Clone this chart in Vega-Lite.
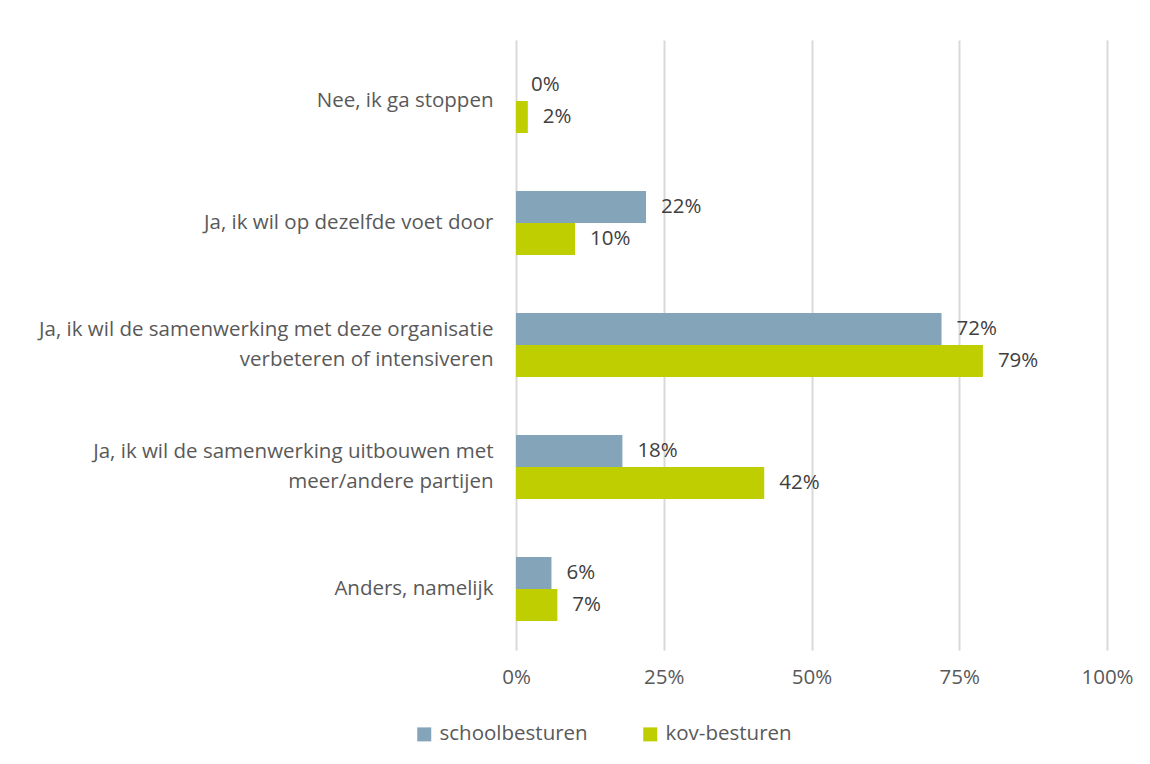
{
  "$schema": "https://vega.github.io/schema/vega-lite/v6.json",
  "autosize": "none",
  "width": 591,
  "height": 610,
  "padding": {"left": 516, "top": 40, "right": 43, "bottom": 114},
  "background": "white",
  "config": {
    "font": "Open Sans",
    "view": {"stroke": null}
  },
  "data": {
    "values": [
      {"categorie": "Nee, ik ga stoppen", "groep": "schoolbesturen", "waarde": 0.0},
      {"categorie": "Nee, ik ga stoppen", "groep": "kov-besturen", "waarde": 0.02},
      {"categorie": "Ja, ik wil op dezelfde voet door", "groep": "schoolbesturen", "waarde": 0.22},
      {"categorie": "Ja, ik wil op dezelfde voet door", "groep": "kov-besturen", "waarde": 0.10},
      {"categorie": "Ja, ik wil de samenwerking met deze organisatie|verbeteren of intensiveren", "groep": "schoolbesturen", "waarde": 0.72},
      {"categorie": "Ja, ik wil de samenwerking met deze organisatie|verbeteren of intensiveren", "groep": "kov-besturen", "waarde": 0.79},
      {"categorie": "Ja, ik wil de samenwerking uitbouwen met|meer/andere partijen", "groep": "schoolbesturen", "waarde": 0.18},
      {"categorie": "Ja, ik wil de samenwerking uitbouwen met|meer/andere partijen", "groep": "kov-besturen", "waarde": 0.42},
      {"categorie": "Anders, namelijk", "groep": "schoolbesturen", "waarde": 0.06},
      {"categorie": "Anders, namelijk", "groep": "kov-besturen", "waarde": 0.07}
    ]
  },
  "encoding": {
    "y": {
      "field": "categorie",
      "type": "nominal",
      "sort": null,
      "scale": {"paddingInner": 0.475, "paddingOuter": 0.2375},
      "axis": {
        "title": null,
        "domain": false,
        "ticks": false,
        "labelExpr": "split(datum.label, '|')",
        "labelFontSize": 20.5,
        "labelColor": "#595959",
        "labelPadding": 23,
        "labelLineHeight": 30,
        "labelLimit": 600,
        "labelOffset": {"condition": {"test": "indexof(datum.value, '|') >= 0", "value": -15}, "value": 0}
      }
    },
    "yOffset": {
      "field": "groep",
      "type": "nominal",
      "sort": ["schoolbesturen", "kov-besturen"]
    },
    "x": {
      "field": "waarde",
      "type": "quantitative",
      "scale": {"domain": [0, 1], "nice": false},
      "axis": {
        "title": null,
        "values": [0, 0.25, 0.5, 0.75, 1],
        "format": ".0%",
        "domain": false,
        "ticks": false,
        "grid": true,
        "gridColor": "#d9d9d9",
        "gridWidth": 2,
        "labelFlush": false,
        "labelFontSize": 20.5,
        "labelColor": "#595959",
        "labelPadding": 17
      }
    }
  },
  "layer": [
    {
      "mark": {"type": "bar"},
      "encoding": {
        "color": {
          "field": "groep",
          "type": "nominal",
          "sort": ["schoolbesturen", "kov-besturen"],
          "scale": {"domain": ["schoolbesturen", "kov-besturen"], "range": ["#84A4B9", "#BFCE00"]},
          "legend": {
            "title": null,
            "orient": "none",
            "direction": "horizontal",
            "legendX": -102,
            "legendY": 684,
            "symbolType": "square",
            "symbolSize": 196,
            "symbolStrokeWidth": 0,
            "labelFontSize": 20.5,
            "labelColor": "#595959",
            "columnPadding": 52,
            "labelOffset": 5
          }
        }
      }
    },
    {
      "mark": {"type": "text", "align": "left", "baseline": "middle", "dx": 15, "fontSize": 20.5, "color": "#404040"},
      "encoding": {
        "text": {"field": "waarde", "type": "quantitative", "format": ".0%"}
      }
    }
  ]
}
